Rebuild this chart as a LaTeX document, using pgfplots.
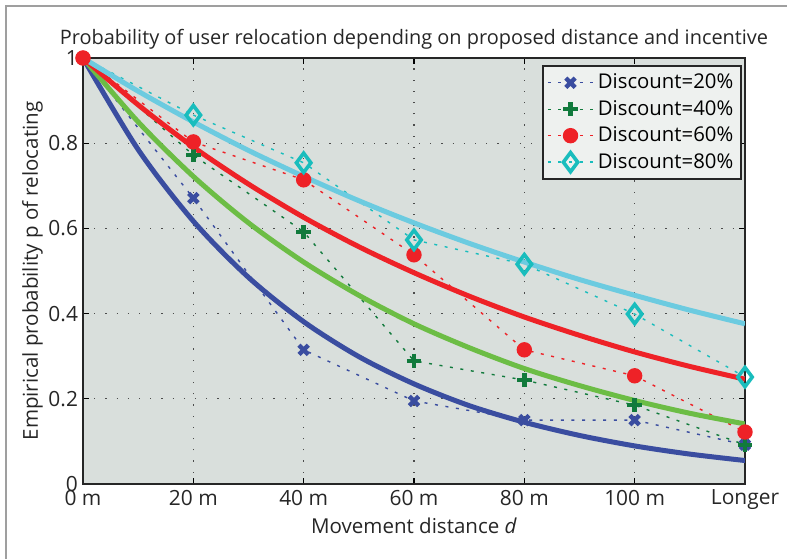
\documentclass[border=0pt]{standalone}
\usepackage{pgfplots}
\pgfplotsset{compat=1.18}
\usepackage{fontspec}
\setmainfont{Open Sans}
\setsansfont{Open Sans}
\definecolor{cblue}{HTML}{3A4DA0}
\definecolor{cgreenm}{HTML}{117A3C}
\definecolor{cgreenl}{HTML}{6CBD45}
\definecolor{cred}{HTML}{EE2227}
\definecolor{ccyanm}{HTML}{19BDBD}
\definecolor{ccyanl}{HTML}{6CCBE0}
\definecolor{bgax}{HTML}{D9DFDC}
\definecolor{legbg}{HTML}{EEF1EF}

\begin{document}
\begin{tikzpicture}
\useasboundingbox (0,0) rectangle (393.5bp,279.5bp);
\draw[gray!75, line width=0.9bp] (3bp,0) -- (3bp,276.5bp) -- (393.5bp,276.5bp);
\begin{axis}[
    at={(41.5bp,37.5bp)}, anchor=south west,
    scale only axis, width=331bp, height=213bp,
    xmin=0, xmax=6, ymin=0, ymax=1,
    axis background/.style={fill=bgax},
    axis line style={line width=1bp, black!85},
    xtick={0,1,2,3,4,5,6},
    xticklabels={0 m,20 m,40 m,60 m,80 m,100 m,Longer},
    ytick={0,0.2,0.4,0.6,0.8,1},
    yticklabels={0,0.2,0.4,0.6,0.8,1},
    tick align=inside, major tick length=3bp,
    tick style={black, line width=0.6bp},
    grid=major,
    major grid style={black!70, line width=0.6bp, dash pattern=on 0.6bp off 5bp},
    tick label style={font=\fontsize{10.5}{12}\selectfont, black!85},
    xticklabel style={yshift=0.5bp},
    yticklabel style={xshift=1bp},
    xlabel={Movement distance \textit{d}},
    ylabel={Empirical probability p of relocating},
    label style={font=\fontsize{10.3}{12}\selectfont, black!85},
    xlabel style={yshift=3bp},
    ylabel style={yshift=-4bp},
    title={Probability of user relocation depending on proposed distance and incentive},
    title style={font=\fontsize{10}{12}\selectfont, black!85, yshift=-5bp},
    legend cell align=left,
    legend style={at={(1,1)}, anchor=north east, xshift=-1.5bp, yshift=-3.5bp,
        fill=legbg, draw=black!85, line width=0.8bp,
        font=\fontsize{10.2}{12}\selectfont, row sep=0.3bp, inner sep=2bp},
    legend image code/.code={
        \draw[mark repeat=2,mark phase=2,#1] plot coordinates {(0cm,0cm) (0.4cm,0cm) (0.8cm,0cm)};},
]
% measured points (dotted)
\addplot[cblue, line width=0.7bp, dash pattern=on 1.5bp off 3.8bp,
    mark=x, mark size=3.3bp, mark options={solid, line width=2.2bp}] coordinates {
    (0,1) (1,0.671) (2,0.315) (3,0.195) (4,0.150) (5,0.150) (6,0.092)};
\addlegendentry{Discount=20\%}
\addplot[cgreenm, line width=0.7bp, dash pattern=on 1.5bp off 3.8bp,
    mark=+, mark size=3.6bp, mark options={solid, line width=2.2bp}] coordinates {
    (0,1) (1,0.772) (2,0.592) (3,0.289) (4,0.244) (5,0.185) (6,0.092)};
\addlegendentry{Discount=40\%}
\addplot[cred, line width=0.7bp, dash pattern=on 1.5bp off 3.8bp,
    mark=*, mark size=3.5bp, mark options={solid}] coordinates {
    (0,1) (1,0.803) (2,0.714) (3,0.538) (4,0.315) (5,0.254) (6,0.122)};
\addlegendentry{Discount=60\%}
\addplot[ccyanm, line width=0.7bp, dash pattern=on 1.5bp off 3.8bp,
    mark=diamond, mark size=4.8bp, mark options={solid, line width=1.8bp}] coordinates {
    (1,0.866) (2,0.754) (3,0.573) (4,0.516) (5,0.399) (6,0.251)};
\addlegendentry{Discount=80\%}
\addplot[ccyanm, line width=0.7bp, dash pattern=on 1.5bp off 3.8bp, forget plot] coordinates {
    (0,1) (1,0.866)};
% fitted curves
\addplot[cblue, line width=2.5bp, smooth, forget plot] coordinates {
    (0,1) (0.5,0.785) (1,0.617) (1.5,0.485) (2,0.381) (2.5,0.299) (3,0.235)
    (3.5,0.184) (4,0.145) (4.5,0.114) (5,0.0894) (5.5,0.0702) (6,0.0551)};
\addplot[cgreenl, line width=2.5bp, smooth, forget plot] coordinates {
    (0,1) (0.5,0.850) (1,0.722) (1.5,0.613) (2,0.521) (2.5,0.443) (3,0.376)
    (3.5,0.320) (4,0.271) (4.5,0.231) (5,0.196) (5.5,0.166) (6,0.141)};
\addplot[cred, line width=2.5bp, smooth, forget plot] coordinates {
    (0,1) (0.5,0.890) (1,0.791) (1.5,0.704) (2,0.626) (2.5,0.557) (3,0.496)
    (3.5,0.441) (4,0.392) (4.5,0.349) (5,0.310) (5.5,0.276) (6,0.246)};
\addplot[ccyanl, line width=2.5bp, smooth, forget plot] coordinates {
    (0,1) (0.5,0.922) (1,0.850) (1.5,0.783) (2,0.722) (2.5,0.665) (3,0.613)
    (3.5,0.565) (4,0.521) (4.5,0.480) (5,0.443) (5.5,0.408) (6,0.376)};
\addplot[cred, only marks, mark=*, mark size=3.5bp, forget plot, clip=false] coordinates {(0,1)};
\end{axis}
\end{tikzpicture}
\end{document}
